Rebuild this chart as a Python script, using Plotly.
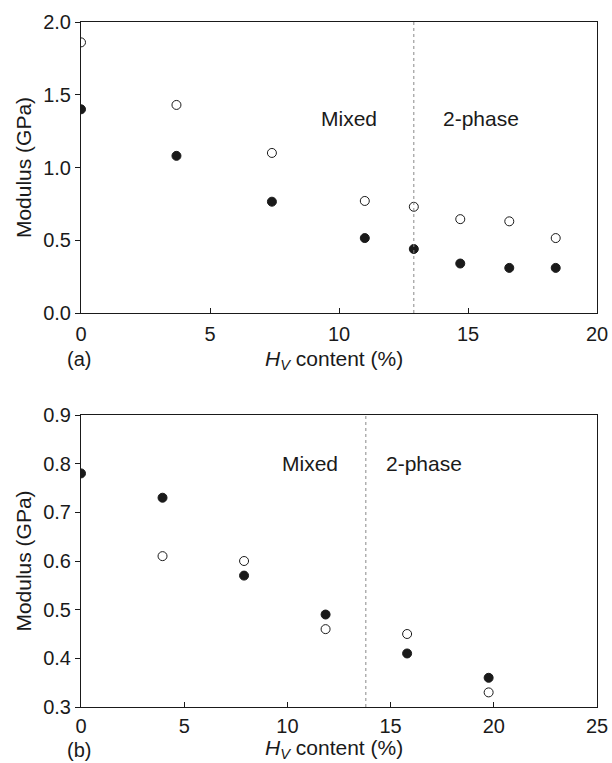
import plotly.graph_objects as go

# Panel (a)
a_x = [0, 3.7, 7.4, 11.0, 12.9, 14.7, 16.6, 18.4]
a_open = [1.86, 1.43, 1.10, 0.77, 0.73, 0.645, 0.63, 0.515]
a_filled = [1.40, 1.08, 0.765, 0.515, 0.44, 0.34, 0.31, 0.31]
a_boundary = 12.9

# Panel (b)
b_x_filled = [0, 3.95, 7.9, 11.85, 15.8, 19.75]
b_filled = [0.78, 0.73, 0.57, 0.49, 0.41, 0.36]
b_x_open = [3.95, 7.9, 11.85, 15.8, 19.75]
b_open = [0.61, 0.60, 0.46, 0.45, 0.33]
b_boundary = 13.8

region_labels = ["Mixed", "2-phase"]
x_title = "<i>H</i><sub><i>V</i></sub> content (%)"
y_title = "Modulus (GPa)"

FONT = "Liberation Sans, Arial, Helvetica, sans-serif"
INK = "#1a1a1a"
FS = 21
TFS = 20

W, H = 612, 763
fig = go.Figure()

def add_points(x, y, filled, xa, ya):
    fig.add_trace(go.Scatter(
        x=x, y=y, mode="markers", xaxis=xa, yaxis=ya, showlegend=False,
        marker=dict(symbol="circle" if filled else "circle-open",
                    size=9, color=INK, line=dict(width=1, color=INK))))

add_points(a_x, a_open, False, "x", "y")
add_points(a_x, a_filled, True, "x", "y")
add_points(b_x_open, b_open, False, "x2", "y2")
add_points(b_x_filled, b_filled, True, "x2", "y2")

axis_common = dict(showline=True, linecolor=INK, linewidth=1, mirror=True,
                   showgrid=False, zeroline=False, ticklen=5, tickcolor=INK,
                   automargin=False,
                   tickfont=dict(family=FONT, size=TFS, color=INK))

def py(pix):
    return 1 - pix / H

fig.update_layout(
    width=W, height=H,
    margin=dict(l=0, r=0, t=0, b=0),
    paper_bgcolor="white", plot_bgcolor="white",
    font=dict(family=FONT, color=INK),
    xaxis=dict(domain=[81 / W, 597 / W], anchor="y", range=[0, 20],
               tickvals=[0, 5, 10, 15, 20], ticks="inside", ticklabelstandoff=3,
               **axis_common),
    yaxis=dict(domain=[py(313), py(22)], anchor="x", range=[0, 2.0],
               tickvals=[0, 0.5, 1.0, 1.5, 2.0], tickformat=".1f", ticks="outside",
               title=dict(text=y_title, font=dict(family=FONT, size=FS, color=INK),
                          standoff=5),
               **axis_common),
    xaxis2=dict(domain=[81 / W, 597 / W], anchor="y2", range=[0, 25],
                tickvals=[0, 5, 10, 15, 20, 25], ticks="inside", ticklabelstandoff=1,
                **axis_common),
    yaxis2=dict(domain=[py(707), py(415)], anchor="x2", range=[0.3, 0.9],
                tickvals=[0.3, 0.4, 0.5, 0.6, 0.7, 0.8, 0.9], tickformat=".1f",
                ticks="outside",
                title=dict(text=y_title, font=dict(family=FONT, size=FS, color=INK),
                           standoff=5),
                **axis_common),
    shapes=[
        dict(type="line", xref="x", yref="y domain", x0=a_boundary, x1=a_boundary,
             y0=0, y1=1, line=dict(color="#888888", width=1, dash="dot")),
        dict(type="line", xref="x2", yref="y2 domain", x0=b_boundary, x1=b_boundary,
             y0=0, y1=1, line=dict(color="#888888", width=1, dash="dot")),
    ],
    annotations=[
        dict(x=10.4, y=1.34, xref="x", yref="y", text=region_labels[0], showarrow=False,
             font=dict(family=FONT, size=FS, color=INK)),
        dict(x=15.5, y=1.34, xref="x", yref="y", text=region_labels[1], showarrow=False,
             font=dict(family=FONT, size=FS, color=INK)),
        dict(x=11.1, y=0.80, xref="x2", yref="y2", text=region_labels[0], showarrow=False,
             font=dict(family=FONT, size=FS, color=INK)),
        dict(x=16.6, y=0.80, xref="x2", yref="y2", text=region_labels[1], showarrow=False,
             font=dict(family=FONT, size=FS, color=INK)),
        # x-axis titles
        dict(x=334 / W, y=py(360), xref="paper", yref="paper", text=x_title,
             showarrow=False, yanchor="middle",
             font=dict(family=FONT, size=FS, color=INK)),
        dict(x=334 / W, y=py(749), xref="paper", yref="paper", text=x_title,
             showarrow=False, yanchor="middle",
             font=dict(family=FONT, size=FS, color=INK)),
        # panel labels
        dict(x=79 / W, y=py(359), xref="paper", yref="paper", text="(a)",
             showarrow=False, xanchor="center", yanchor="middle",
             font=dict(family=FONT, size=FS - 1, color=INK)),
        dict(x=79 / W, y=py(750), xref="paper", yref="paper", text="(b)",
             showarrow=False, xanchor="center", yanchor="middle",
             font=dict(family=FONT, size=FS - 1, color=INK)),
    ],
)

fig.write_html("out.html")
